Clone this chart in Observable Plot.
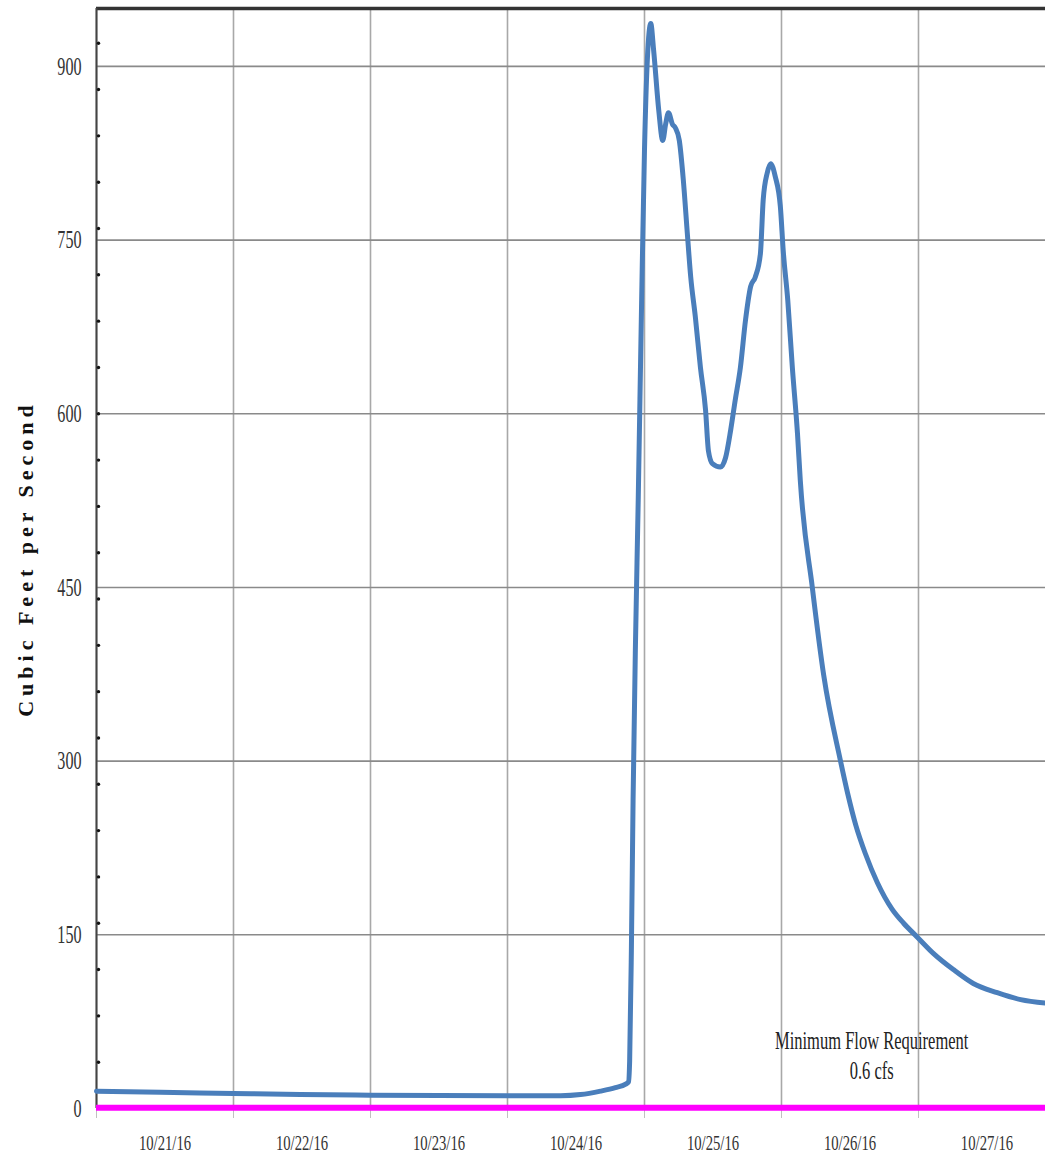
<!DOCTYPE html>
<html><head><meta charset="utf-8">
<script src="https://cdn.jsdelivr.net/npm/d3@7"></script>
<script src="https://cdn.jsdelivr.net/npm/@observablehq/plot@0.6"></script>
<style>body{margin:0;background:#fff} #chart svg{display:block}</style>
</head><body><div id="chart"></div>
<script>
// ---- data ----
const timestamps = [
  "2016-10-21T00:00Z","2016-10-21T11:12Z","2016-10-22T00:00Z","2016-10-22T11:42Z","2016-10-23T00:00Z",
  "2016-10-24T00:00Z","2016-10-24T09:18Z","2016-10-24T12:48Z","2016-10-24T16:18Z","2016-10-24T18:54Z",
  "2016-10-24T20:42Z","2016-10-24T21:12Z","2016-10-24T21:24Z","2016-10-24T21:42Z","2016-10-24T22:00Z",
  "2016-10-24T22:24Z","2016-10-24T22:54Z","2016-10-24T23:30Z","2016-10-25T00:00Z","2016-10-25T00:30Z",
  "2016-10-25T01:06Z","2016-10-25T01:36Z","2016-10-25T02:30Z","2016-10-25T03:12Z","2016-10-25T03:42Z",
  "2016-10-25T04:12Z","2016-10-25T04:54Z","2016-10-25T05:24Z","2016-10-25T06:06Z","2016-10-25T06:48Z",
  "2016-10-25T07:30Z","2016-10-25T08:06Z","2016-10-25T08:54Z","2016-10-25T09:48Z","2016-10-25T10:42Z",
  "2016-10-25T11:12Z","2016-10-25T11:54Z","2016-10-25T13:18Z","2016-10-25T14:12Z","2016-10-25T15:06Z",
  "2016-10-25T15:54Z","2016-10-25T16:48Z","2016-10-25T17:42Z","2016-10-25T18:36Z","2016-10-25T19:24Z",
  "2016-10-25T20:18Z","2016-10-25T20:48Z","2016-10-25T21:30Z","2016-10-25T22:06Z","2016-10-25T22:54Z",
  "2016-10-25T23:48Z","2016-10-26T00:18Z","2016-10-26T01:06Z","2016-10-26T01:54Z","2016-10-26T02:48Z",
  "2016-10-26T03:18Z","2016-10-26T05:24Z","2016-10-26T07:24Z","2016-10-26T10:18Z","2016-10-26T11:36Z",
  "2016-10-26T13:00Z","2016-10-26T14:42Z","2016-10-26T16:48Z","2016-10-26T19:24Z","2016-10-26T21:24Z",
  "2016-10-26T23:48Z","2016-10-27T02:36Z","2016-10-27T06:06Z","2016-10-27T09:36Z","2016-10-27T13:48Z",
  "2016-10-27T17:54Z","2016-10-27T22:12Z"
];
const flowCfs = [
  15, 14, 13, 12, 11.5,
  11, 11, 12, 15, 18,
  21, 23, 41, 136, 266,
  396, 525, 698, 828, 906,
  937, 914, 862, 836, 850,
  860, 850, 847, 836, 802,
  756, 718, 684, 640, 603,
  568, 557, 554, 562, 586,
  612, 640, 681, 710, 718,
  738, 785, 808, 816, 805,
  779, 741, 698, 640, 583,
  542, 450, 374, 301, 272,
  245, 220, 195, 172, 160,
  148, 134, 120, 108, 100,
  94, 91
];
const dayBoundaries = ["2016-10-21T00:00Z","2016-10-22T00:00Z","2016-10-23T00:00Z","2016-10-24T00:00Z","2016-10-25T00:00Z","2016-10-26T00:00Z","2016-10-27T00:00Z"];
const dayLabels = ["2016-10-21T12:00Z","2016-10-22T12:00Z","2016-10-23T12:00Z","2016-10-24T12:00Z","2016-10-25T12:00Z","2016-10-26T12:00Z","2016-10-27T12:00Z"];
const yTicks = [0, 150, 300, 450, 600, 750, 900];
const minorYTicks = [40,80,120,160,200,240,280,320,360,400,440,480,520,560,600,640,680,720,760,800,840,880,920];
const minimumFlow = 0.6;
const annotationText = "Minimum Flow Requirement\n0.6 cfs";
const annotationTime = "2016-10-26T15:48Z";
const annotationLevel = 47;
const yTitle = "Cubic Feet per Second";

// ---- chart ----
const data = timestamps.map((t, i) => ({time: new Date(t), cfs: flowCfs[i]}));
const xStart = new Date("2016-10-21T00:00Z");
const xEnd = new Date("2016-10-27T22:15Z");
const fmt = d3.utcFormat("%m/%d/%y");

const chart = Plot.plot({
  width: 1045, height: 1164,
  marginLeft: 96, marginRight: 0, marginTop: 8, marginBottom: 56,
  style: {fontFamily: "'Liberation Serif', 'Times New Roman', serif", background: "#fff", color: "#333"},
  x: {type: "utc", domain: [xStart, xEnd], label: null},
  y: {domain: [0, 950], label: null},
  marks: [
    Plot.gridX(dayBoundaries.map(d => new Date(d)), {stroke: "#a8a8a8", strokeOpacity: 1, strokeWidth: 1.6}),
    Plot.gridY(yTicks, {stroke: "#8a8a8a", strokeOpacity: 1, strokeWidth: 1.6}),
    Plot.axisX(dayBoundaries.map(d => new Date(d)), {tickSize: 10, tickFormat: () => "", stroke: "#c0c0c0", label: null}),
    Plot.axisX(dayLabels.map(d => new Date(d)), {tickSize: 0, tickPadding: 27, tickFormat: fmt, fontSize: 21, fill: "#333", label: null}),
    Plot.axisY(yTicks, {tickSize: 0, tickPadding: 15, fontSize: 26, fill: "#333", label: null}),
    Plot.ruleY([950], {stroke: "#333", strokeWidth: 3.5}),
    Plot.ruleX([xStart], {stroke: "#444", strokeWidth: 2}),
    Plot.dot(minorYTicks, {y: d => d, frameAnchor: "left", dx: 2, r: 1.7, fill: "#111", stroke: null}),
    Plot.ruleY([minimumFlow], {stroke: "#ff00ff", strokeWidth: 6}),
    Plot.line(data, {x: "time", y: "cfs", stroke: "#4a7ebb", strokeWidth: 5, curve: "monotone-x", strokeLinejoin: "round", strokeLinecap: "round"}),
    Plot.text([{time: new Date(annotationTime), cfs: annotationLevel, label: annotationText}],
      {x: "time", y: "cfs", text: "label", fontSize: 25, lineHeight: 1.2, fill: "#222"}),
    Plot.text([yTitle], {frameAnchor: "left", dx: -71, rotate: -90, textAnchor: "middle", fontSize: 22, fontWeight: "bold", fill: "#111"})
  ]
});

document.getElementById("chart").appendChild(chart);

// horizontally condense texts (reference typeface is a narrow serif)
function squeezeEl(t, s) {
  const r = t.getBoundingClientRect();
  const holder = t.closest("[text-anchor]");
  const anchor = t.getAttribute("text-anchor") || (holder ? holder.getAttribute("text-anchor") : "start");
  const sx = anchor === "end" ? r.right : anchor === "middle" ? (r.left + r.right) / 2 : r.left;
  const parent = t.parentNode;
  const m = parent.getScreenCTM().inverse();
  const pt = chart.createSVGPoint(); pt.x = sx; pt.y = r.top;
  const p = pt.matrixTransform(m);
  const g = document.createElementNS("http://www.w3.org/2000/svg", "g");
  g.setAttribute("transform", `translate(${p.x},0) scale(${s},1) translate(${-p.x},0)`);
  parent.insertBefore(g, t);
  g.appendChild(t);
}
const yLabelSet = new Set(yTicks.map(String));
const xLabelSet = new Set(dayLabels.map(d => fmt(new Date(d))));
Array.from(chart.querySelectorAll("text")).forEach(t => {
  const s = t.textContent;
  if (yLabelSet.has(s)) squeezeEl(t, 0.62);
  else if (xLabelSet.has(s)) squeezeEl(t, 0.7);
  else if (s.startsWith("Minimum")) squeezeEl(t, 0.66);
  else if (s === yTitle) t.style.letterSpacing = "5px";
});
</script>
</body></html>
